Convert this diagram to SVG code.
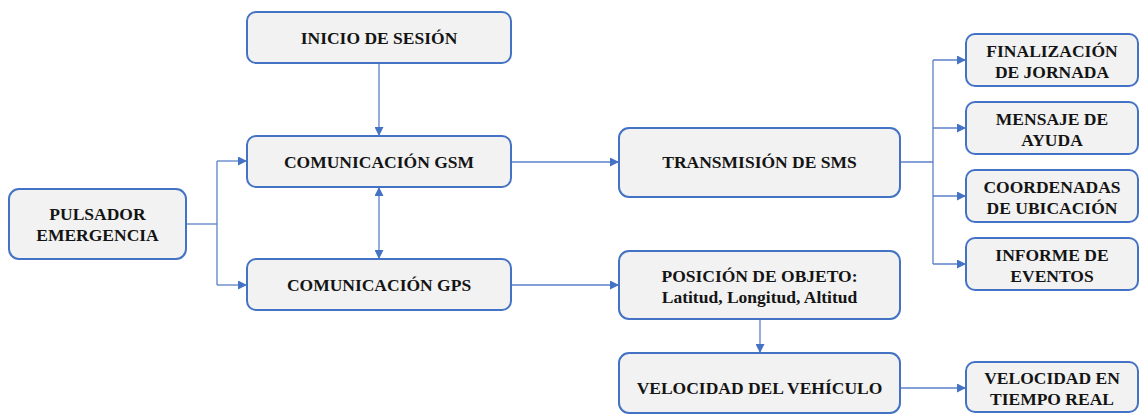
<svg xmlns="http://www.w3.org/2000/svg" width="1141" height="416" viewBox="0 0 1141 416">
  <style>
    .box { fill: #f2f2f2; stroke: #4472c4; stroke-width: 2; }
    .lbl { font-weight: bold; font-size: 17.5px; fill: #141414; text-anchor: middle; }
    .wire { fill: none; stroke: #5b80c8; stroke-width: 1.3; }
  </style>
  <defs>
    <marker id="arrow" viewBox="0 0 10 10" refX="10" refY="5" markerUnits="userSpaceOnUse" markerWidth="10" markerHeight="9" orient="auto-start-reverse">
      <path d="M0,0 L10,5 L0,10 z" fill="#4472c4"/>
    </marker>
  </defs>
  <rect width="1141" height="416" fill="#ffffff"/>

  <!-- connectors -->
  <g id="connectors">
    <path class="wire" d="M379,63 V136" marker-end="url(#arrow)"/>
    <path class="wire" d="M379,187 V259" marker-start="url(#arrow)" marker-end="url(#arrow)"/>
    <path class="wire" d="M186,224 H217"/>
    <path class="wire" d="M217,161 V285"/>
    <path class="wire" d="M217,161 H247" marker-end="url(#arrow)"/>
    <path class="wire" d="M217,285 H247" marker-end="url(#arrow)"/>
    <path class="wire" d="M511,162 H619" marker-end="url(#arrow)"/>
    <path class="wire" d="M511,285 H619" marker-end="url(#arrow)"/>
    <path class="wire" d="M900,162 H933"/>
    <path class="wire" d="M933,60 V264"/>
    <path class="wire" d="M933,60 H966" marker-end="url(#arrow)"/>
    <path class="wire" d="M933,128 H966" marker-end="url(#arrow)"/>
    <path class="wire" d="M933,196 H966" marker-end="url(#arrow)"/>
    <path class="wire" d="M933,264 H966" marker-end="url(#arrow)"/>
    <path class="wire" d="M760,319 V353" marker-end="url(#arrow)"/>
    <path class="wire" d="M900,388 H966" marker-end="url(#arrow)"/>
  </g>

  <g font-family="Liberation Serif, Tinos, Times New Roman, serif">
  <g id="inicio-sesion">
    <rect class="box" x="247" y="12" width="264" height="51" rx="9"/>
    <text class="lbl" x="379" y="44">INICIO DE SESIÓN</text>
  </g>
  <g id="comunicacion-gsm">
    <rect class="box" x="247" y="136" width="264" height="51" rx="9"/>
    <text class="lbl" x="379" y="168">COMUNICACIÓN GSM</text>
  </g>
  <g id="comunicacion-gps">
    <rect class="box" x="247" y="259" width="264" height="51" rx="9"/>
    <text class="lbl" x="379" y="291">COMUNICACIÓN GPS</text>
  </g>
  <g id="pulsador-emergencia">
    <rect class="box" x="9" y="189" width="177" height="70" rx="10"/>
    <text class="lbl" x="97.5" y="220">PULSADOR</text>
    <text class="lbl" x="97.5" y="241">EMERGENCIA</text>
  </g>
  <g id="transmision-sms">
    <rect class="box" x="619" y="128" width="281" height="69" rx="10"/>
    <text class="lbl" x="759.5" y="168">TRANSMISIÓN DE SMS</text>
  </g>
  <g id="posicion-objeto">
    <rect class="box" x="619" y="251" width="281" height="68" rx="10"/>
    <text class="lbl" x="759.5" y="282">POSICIÓN DE OBJETO:</text>
    <text class="lbl" x="759.5" y="303">Latitud, Longitud, Altitud</text>
  </g>
  <g id="velocidad-vehiculo">
    <rect class="box" x="619" y="353" width="281" height="60" rx="10"/>
    <text class="lbl" x="759.5" y="394">VELOCIDAD DEL VEHÍCULO</text>
  </g>
  <g id="finalizacion-jornada">
    <rect class="box" x="966" y="34" width="172" height="52" rx="9"/>
    <text class="lbl" x="1052" y="57">FINALIZACIÓN</text>
    <text class="lbl" x="1052" y="78">DE JORNADA</text>
  </g>
  <g id="mensaje-ayuda">
    <rect class="box" x="966" y="102" width="172" height="52" rx="9"/>
    <text class="lbl" x="1052" y="125">MENSAJE DE</text>
    <text class="lbl" x="1052" y="146">AYUDA</text>
  </g>
  <g id="coordenadas-ubicacion">
    <rect class="box" x="966" y="170" width="172" height="52" rx="9"/>
    <text class="lbl" x="1052" y="193">COORDENADAS</text>
    <text class="lbl" x="1052" y="214">DE UBICACIÓN</text>
  </g>
  <g id="informe-eventos">
    <rect class="box" x="966" y="238" width="172" height="52" rx="9"/>
    <text class="lbl" x="1052" y="261">INFORME DE</text>
    <text class="lbl" x="1052" y="282">EVENTOS</text>
  </g>
  <g id="velocidad-tiempo-real">
    <rect class="box" x="966" y="362" width="172" height="50" rx="9"/>
    <text class="lbl" x="1052" y="384">VELOCIDAD EN</text>
    <text class="lbl" x="1052" y="405">TIEMPO REAL</text>
  </g>
  </g>
</svg>
